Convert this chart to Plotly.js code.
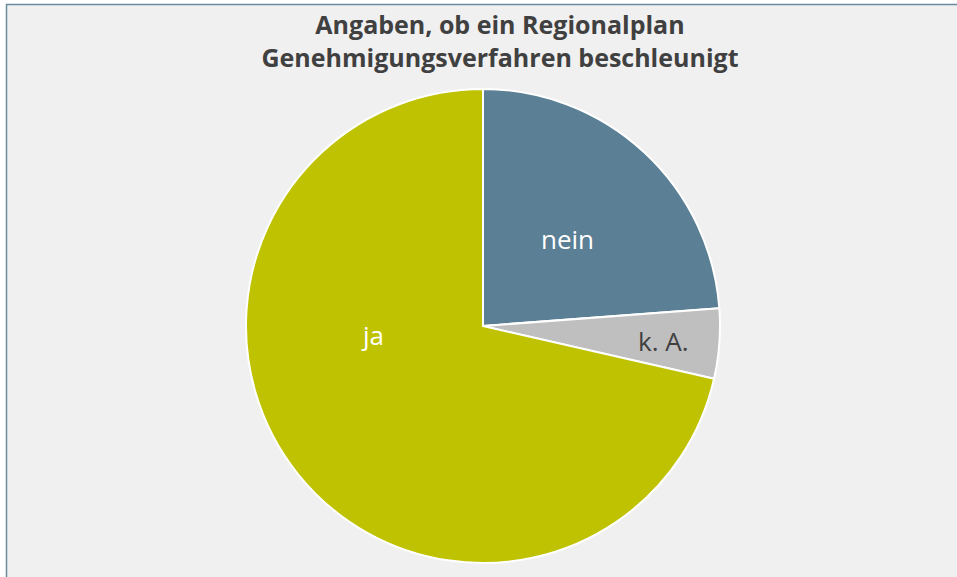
<!DOCTYPE html>
<html>
<head>
<meta charset="utf-8">
<script src="https://cdn.plot.ly/plotly-3.0.1.min.js"></script>
<style>html,body{margin:0;padding:0;background:#fff;}#chart{width:957px;height:577px;}</style>
</head>
<body>
<div id="chart"></div>
<script>
const categories = ['nein', 'k. A.', 'ja'];
const values = [5, 1, 15];
const sliceColors = ['#5b7f95', '#bfbfbf', '#bfc200'];
const labelColors = ['#ffffff', '#404040', '#ffffff'];
const titleText = 'Angaben, ob ein Regionalplan<br>Genehmigungsverfahren beschleunigt';

const W = 957, H = 577;
const cx = 483, cy = 326, r = 237;
// label anchor positions as fractions of the radius (x right, y down), like the original layout
const labelOffsets = [[0.355, -0.365], [0.76, 0.065], [-0.465, 0.04]];

const trace = {
  type: 'pie',
  labels: categories,
  values: values,
  sort: false,
  direction: 'clockwise',
  rotation: 0,
  marker: { colors: sliceColors, line: { color: '#ffffff', width: 2 } },
  textinfo: 'none',
  hoverinfo: 'label+value',
  showlegend: false,
  domain: { x: [(cx - r) / W, (cx + r) / W], y: [(H - (cy + r)) / H, (H - (cy - r)) / H] }
};

const annotations = categories.map((c, i) => ({
  text: c,
  xref: 'paper', yref: 'paper',
  x: (cx + labelOffsets[i][0] * r) / W,
  y: (H - (cy + labelOffsets[i][1] * r)) / H,
  xanchor: 'center', yanchor: 'middle',
  showarrow: false,
  font: { family: 'Open Sans, sans-serif', size: 26, color: labelColors[i] }
}));

const layout = {
  width: W, height: H,
  margin: { l: 0, r: 0, t: 0, b: 0 },
  paper_bgcolor: '#ffffff',
  showlegend: false,
  title: {
    text: titleText,
    x: 500 / W, xanchor: 'center', xref: 'paper',
    y: 1 - 34 / H, yanchor: 'top', yref: 'container',
    font: { family: 'Open Sans, sans-serif', size: 25, color: '#404040', weight: 'bold' }
  },
  annotations: annotations,
  shapes: [{
    type: 'rect', xref: 'paper', yref: 'paper', layer: 'below',
    x0: 6.5 / W, x1: 1.2, y0: -0.2, y1: 1 - 4.5 / H,
    fillcolor: '#f0f0f0', line: { color: '#6a8aa0', width: 1.5 }
  }]
};

Plotly.newPlot('chart', [trace], layout, { displayModeBar: false, staticPlot: true });
</script>
</body>
</html>
